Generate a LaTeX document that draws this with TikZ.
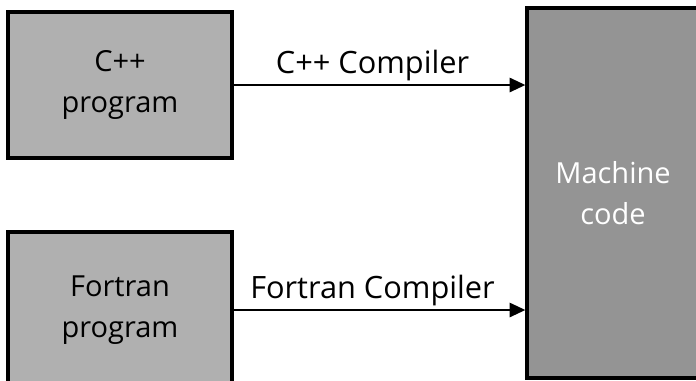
\documentclass[tikz,border=0pt]{standalone}
\usepackage{fontspec}
\setmainfont{Open Sans}
\usepackage{tikz}
\usetikzlibrary{arrows.meta,positioning,calc}
\definecolor{CGrey}{HTML}{B0B0B0}
\definecolor{CDark}{HTML}{949494}

\begin{document}
\begin{tikzpicture}[x=0.02cm,y=-0.02cm,
    srcbox/.style={draw=black,line width=1.8pt,fill=CGrey,minimum width=4.48cm,
      align=center,font=\fontsize{16.5}{23}\selectfont,inner sep=0pt},
    flow/.style={-{Triangle[length=9pt,width=8pt]},line width=1.5pt},
    flowlabel/.style={above=-2pt,font=\fontsize{17.5}{21}\selectfont,xshift=-0.14cm}]
  \useasboundingbox (0,0) rectangle (696,380);
  \clip (0,0) rectangle (696,380);
  \node[srcbox,minimum height=2.92cm] (cpp) at (120,85) {C++\\program};
  \node[srcbox,minimum height=3.12cm] (fortran) at (120,310) {Fortran\\program};
  \node[draw=black,line width=1.8pt,fill=CDark,minimum width=3.44cm,minimum height=7.4cm,
    inner sep=0pt,align=center,text=white,font=\fontsize{16.5}{23}\selectfont] (machine) at (613,193) {Machine\\code};
  \draw[flow] (cpp.east) -- node[flowlabel] {C++ Compiler} (cpp.east -| machine.west);
  \draw[flow] (fortran.east) -- node[flowlabel] {Fortran Compiler} (fortran.east -| machine.west);
\end{tikzpicture}
\end{document}
